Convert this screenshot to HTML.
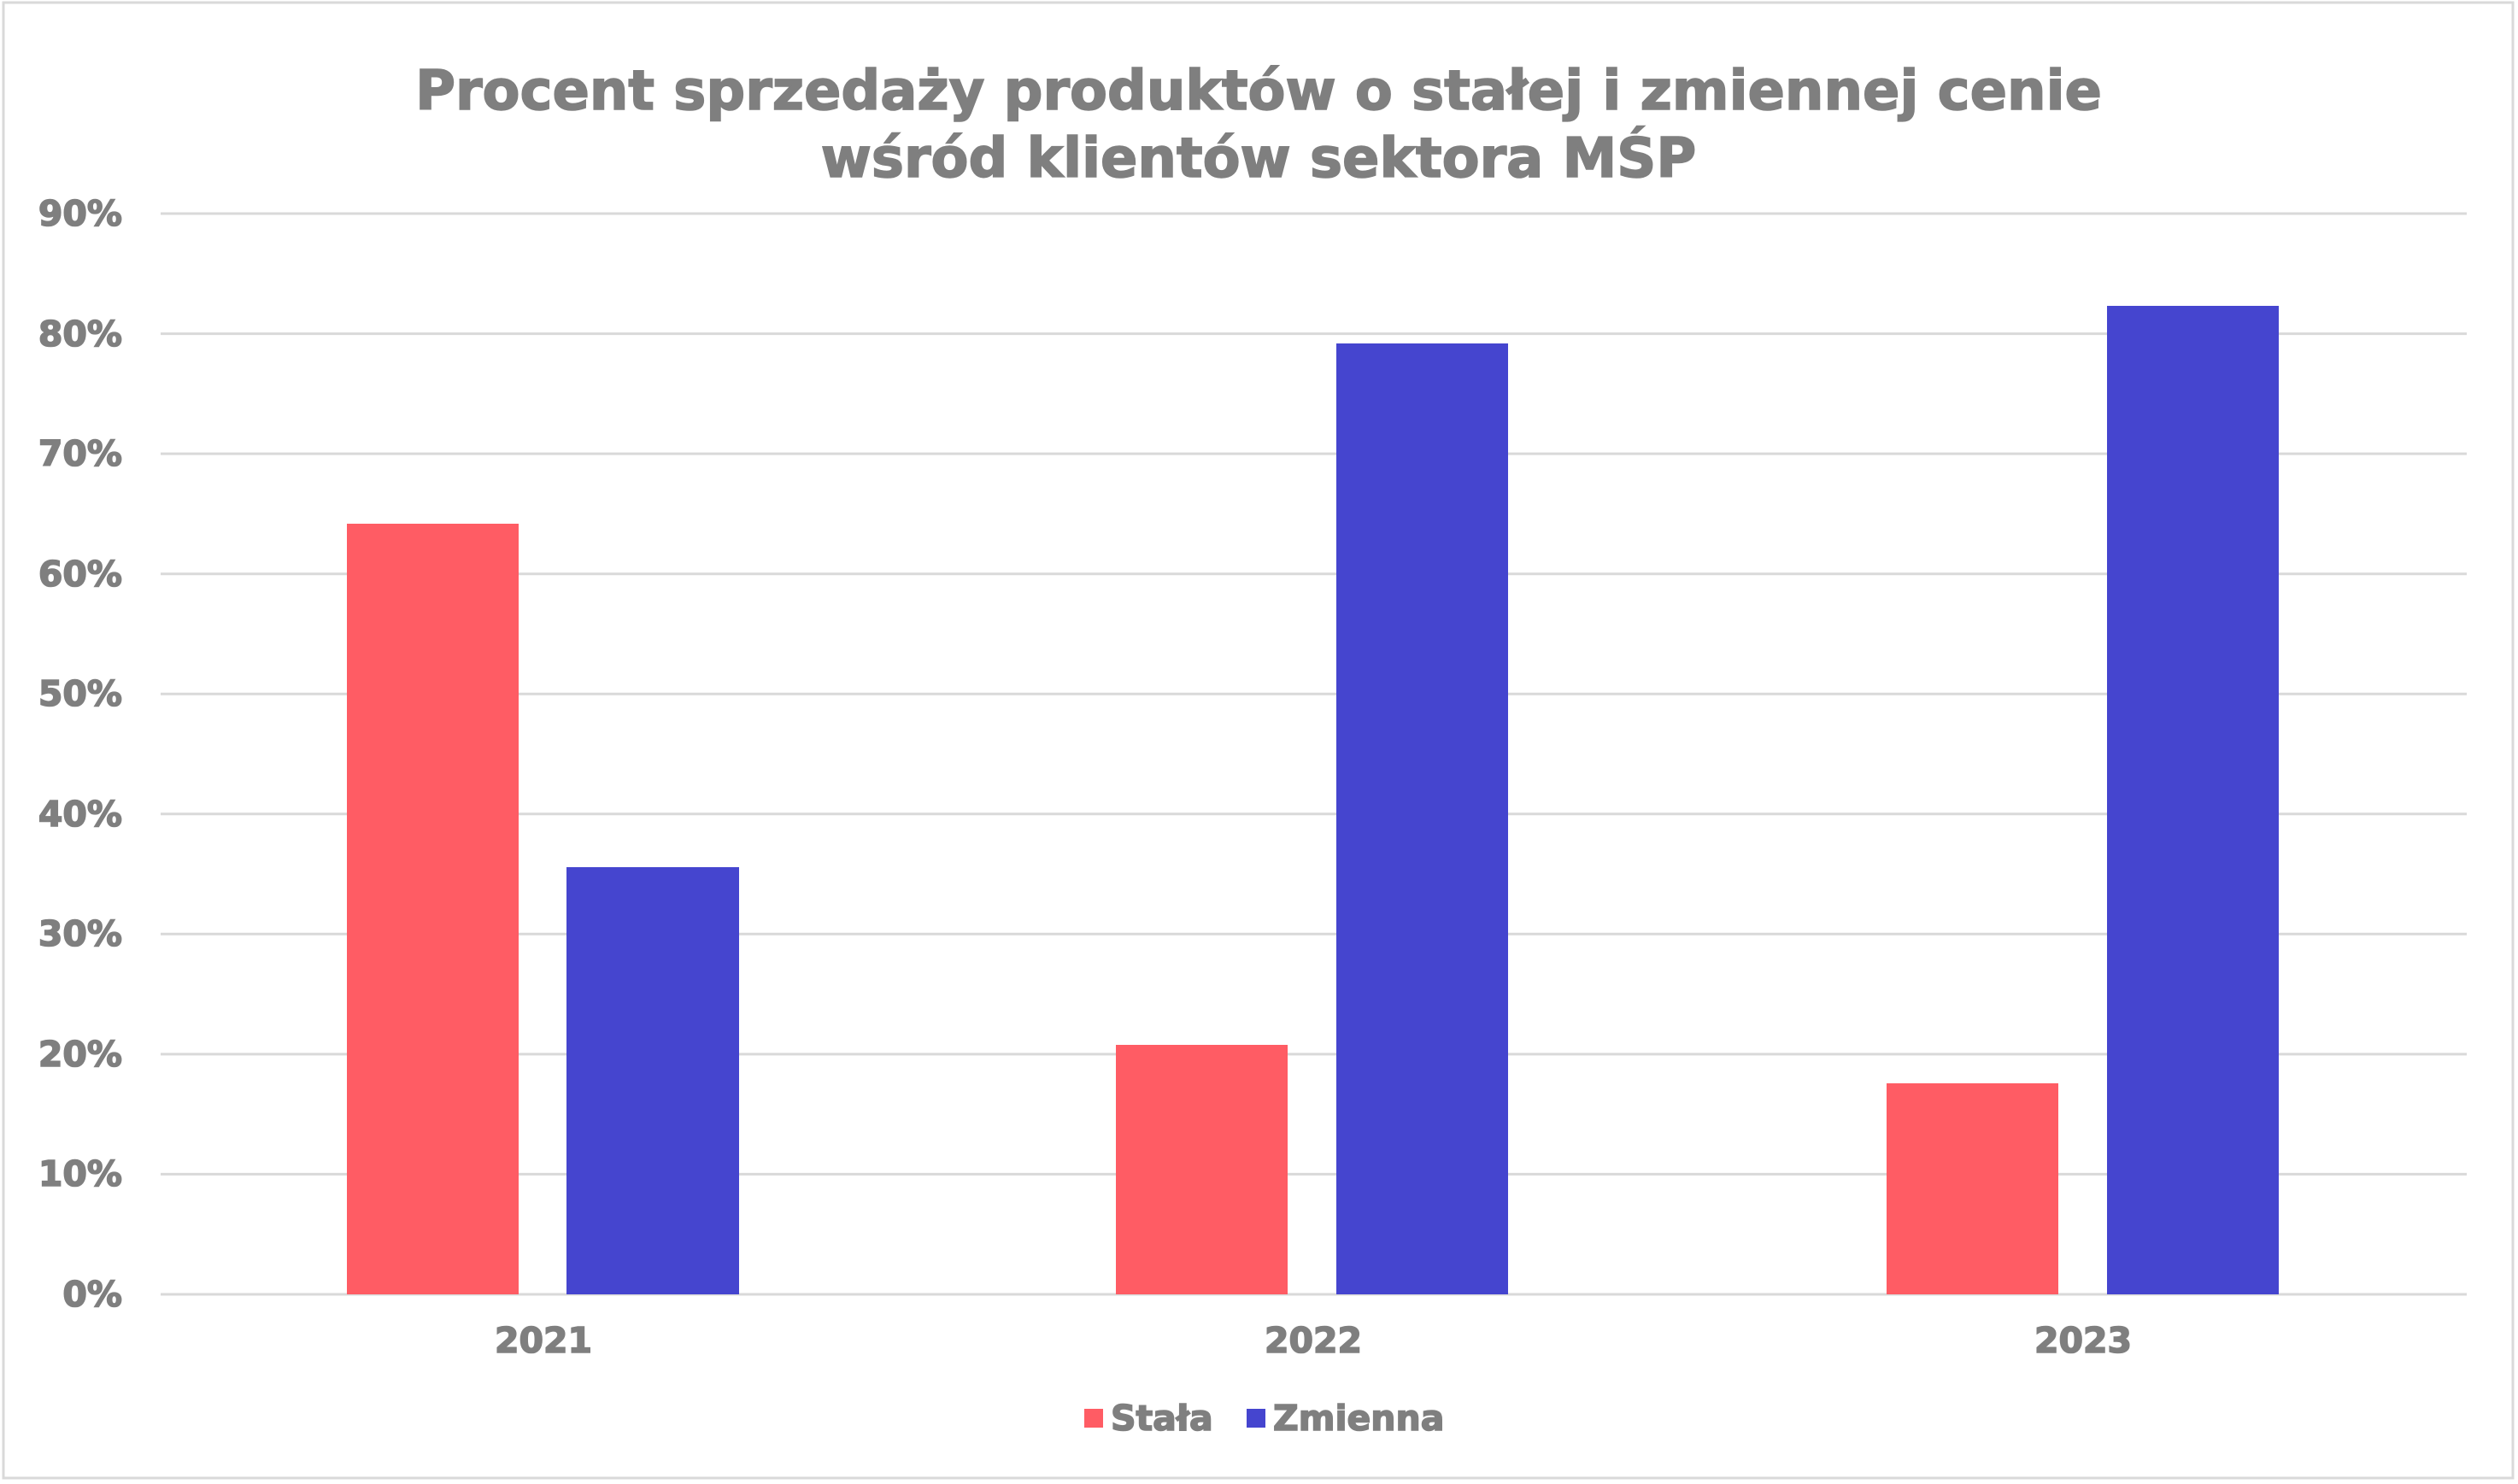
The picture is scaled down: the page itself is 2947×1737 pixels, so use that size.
<!DOCTYPE html>
<html><head><meta charset="utf-8"><style>
html,body{margin:0;padding:0;background:#fff;}
svg{display:block;}
text{font-family:"DejaVu Sans","Liberation Sans",sans-serif;font-weight:bold;fill:#7f7f7f;stroke:#7f7f7f;stroke-width:1.6;}
</style></head><body>
<svg width="2947" height="1737" viewBox="0 0 2947 1737" xmlns="http://www.w3.org/2000/svg">
<rect x="4" y="3" width="2937" height="1727" fill="#fff" stroke="#d9d9d9" stroke-width="3"/>
<text x="1473" y="128" font-size="64" text-anchor="middle">Procent sprzedaży produktów o stałej i zmiennej cenie</text>
<text x="1473" y="207" font-size="64" text-anchor="middle">wśród klientów sektora MŚP</text>
<g stroke="#d9d9d9" stroke-width="3">
<line x1="188" x2="2887" y1="250" y2="250"/>
<line x1="188" x2="2887" y1="390.6" y2="390.6"/>
<line x1="188" x2="2887" y1="531.1" y2="531.1"/>
<line x1="188" x2="2887" y1="671.7" y2="671.7"/>
<line x1="188" x2="2887" y1="812.2" y2="812.2"/>
<line x1="188" x2="2887" y1="952.8" y2="952.8"/>
<line x1="188" x2="2887" y1="1093.3" y2="1093.3"/>
<line x1="188" x2="2887" y1="1233.9" y2="1233.9"/>
<line x1="188" x2="2887" y1="1374.4" y2="1374.4"/>
<line x1="188" x2="2887" y1="1515" y2="1515"/>
</g>
<g font-size="41" text-anchor="end">
<text x="143" y="264">90%</text>
<text x="143" y="405">80%</text>
<text x="143" y="545">70%</text>
<text x="143" y="686">60%</text>
<text x="143" y="826">50%</text>
<text x="143" y="967">40%</text>
<text x="143" y="1107">30%</text>
<text x="143" y="1248">20%</text>
<text x="143" y="1388">10%</text>
<text x="143" y="1529">0%</text>
</g>
<g fill="#ff5c64">
<rect x="406" y="613" width="201" height="902"/>
<rect x="1306" y="1223" width="201" height="292"/>
<rect x="2208" y="1268" width="201" height="247"/>
</g>
<g fill="#4545cf">
<rect x="663" y="1015" width="202" height="500"/>
<rect x="1564" y="402" width="201" height="1113"/>
<rect x="2466" y="358" width="201" height="1157"/>
</g>
<g font-size="41" text-anchor="middle">
<text x="636" y="1583">2021</text>
<text x="1537" y="1583">2022</text>
<text x="2438" y="1583">2023</text>
</g>
<rect x="1269" y="1649" width="22" height="22" fill="#ff5c64"/>
<text x="1300" y="1674" font-size="41">Stała</text>
<rect x="1459" y="1649" width="22" height="22" fill="#4545cf"/>
<text x="1490" y="1674" font-size="41">Zmienna</text>
</svg>
</body></html>
